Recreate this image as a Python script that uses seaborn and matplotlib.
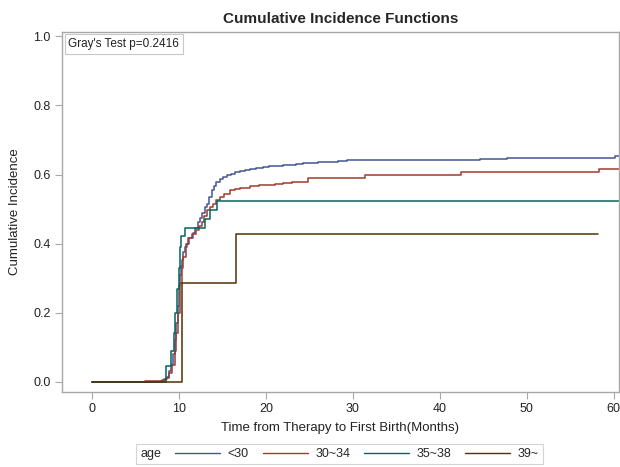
import pandas as pd
import seaborn as sns
import matplotlib.pyplot as plt
from matplotlib.lines import Line2D

# step points (time, cumulative incidence)
t_lt30 = [0, 7.9, 8.3, 8.6, 8.9, 9.1, 9.3, 9.5, 9.7, 9.85, 10.0, 10.1, 10.2, 10.3, 10.5, 10.7, 10.9,
          11.2, 11.6, 11.9, 12.2, 12.4, 12.7, 13.0, 13.2, 13.5, 13.8, 14.0, 14.3, 14.7, 15.1, 15.5,
          16.0, 16.5, 17.0, 17.6, 18.2, 18.9, 19.7, 20.4, 21.2, 22.0, 22.8, 23.5, 24.3, 25.1, 26.0,
          27.4, 28.3, 29.3, 44.6, 47.7, 60.2, 60.6]
y_lt30 = [0, 0.003, 0.008, 0.015, 0.03, 0.05, 0.08, 0.12, 0.17, 0.22, 0.28, 0.31, 0.335, 0.353, 0.375, 0.39, 0.40,
          0.415, 0.43, 0.445, 0.462, 0.473, 0.49, 0.505, 0.516, 0.535, 0.555, 0.567, 0.579, 0.588, 0.594, 0.598,
          0.603, 0.607, 0.61, 0.613, 0.615, 0.618, 0.621, 0.624, 0.626, 0.627, 0.629, 0.630, 0.632, 0.633, 0.635,
          0.637, 0.639, 0.642, 0.646, 0.649, 0.655, 0.655]

t_30_34 = [0, 6.1, 8.0, 8.5, 8.9, 9.2, 9.5, 9.7, 9.9, 10.1, 10.3, 10.5, 10.8, 11.1, 11.5, 12.0, 12.3,
           12.6, 12.9, 13.2, 13.6, 13.9, 14.3, 14.7, 15.2, 15.9, 16.5, 17.0, 18.2, 19.2, 20.1, 21.0,
           22.0, 23.0, 24.0, 24.9, 31.4, 42.5, 58.3, 60.6]
y_30_34 = [0, 0.003, 0.006, 0.012, 0.025, 0.05, 0.09, 0.14, 0.2, 0.286, 0.33, 0.36, 0.40, 0.415, 0.428, 0.44, 0.452,
           0.463, 0.48, 0.497, 0.506, 0.516, 0.526, 0.535, 0.545, 0.555, 0.559, 0.562, 0.566, 0.569, 0.571, 0.573,
           0.575, 0.577, 0.579, 0.59, 0.598, 0.606, 0.617, 0.617]

t_35_38 = [0, 8.5, 9.1, 9.4, 9.6, 9.8, 10.0, 10.1, 10.2, 10.7, 13.0, 13.6, 14.4, 60.6]
y_35_38 = [0, 0.045, 0.09, 0.14, 0.2, 0.27, 0.33, 0.39, 0.422, 0.446, 0.471, 0.497, 0.522, 0.522]

t_39 = [0, 10.3, 16.55, 58.2]
y_39 = [0, 0.2857, 0.4286, 0.4286]

groups = ["<30", "30~34", "35~38", "39~"]
colors = ["#445694", "#A23A2E", "#01665E", "#543005"]

frames = []
for g, t, y in zip(groups, [t_lt30, t_30_34, t_35_38, t_39], [y_lt30, y_30_34, y_35_38, y_39]):
    frames.append(pd.DataFrame({"time": t, "cif": y, "age": g}))
df = pd.concat(frames, ignore_index=True)

sns.set_style("white")
plt.rcParams["font.family"] = ["Liberation Sans", "DejaVu Sans"]

fig = plt.figure(figsize=(6.2, 4.67), dpi=100)
ax = fig.add_axes([0.1, 0.161, 0.898, 0.77])

sns.lineplot(data=df, x="time", y="cif", hue="age", hue_order=groups,
             palette=dict(zip(groups, colors)), estimator=None, sort=False,
             drawstyle="steps-post", linewidth=1.1, legend=False, ax=ax)

ax.set_xlim(-3.45, 60.6)
ax.set_ylim(-0.029, 1.012)
ax.set_xticks([0, 10, 20, 30, 40, 50, 60])
ax.set_yticks([0.0, 0.2, 0.4, 0.6, 0.8, 1.0])
ax.set_yticklabels(["0.0", "0.2", "0.4", "0.6", "0.8", "1.0"])
for s in ax.spines.values():
    s.set_color("#a8a8a8")
    s.set_linewidth(1.0)
ax.tick_params(axis="both", direction="out", length=5, width=0.8, color="#a8a8a8",
               labelsize=9, labelcolor="#222222", pad=3, bottom=True, left=True)

ax.set_xlabel("Time from Therapy to First Birth(Months)", fontsize=9.5, color="#222222", labelpad=5)
ax.set_ylabel("Cumulative Incidence", fontsize=9.5, color="#222222", labelpad=9)
ax.set_title("Cumulative Incidence Functions", fontsize=11, fontweight="bold", pad=7)

ax.text(0.011, 0.984, "Gray's Test p=0.2416", transform=ax.transAxes, fontsize=8.5,
        va="top", ha="left", color="#222222",
        bbox=dict(boxstyle="square,pad=0.3", facecolor="white", edgecolor="#c8c8c8", linewidth=0.8))

# legend at the bottom with the title inline
handles = [Line2D([], [], color=c, lw=1.0) for c in colors]
leg = fig.legend(handles, groups, title="age", loc="center", bbox_to_anchor=(0.548, 0.028),
                 ncol=4, fontsize=9, title_fontsize=9, frameon=True, fancybox=False,
                 edgecolor="#c8c8c8", handlelength=3.6, handletextpad=0.6, columnspacing=0.65,
                 borderpad=0.35)
leg.get_frame().set_linewidth(0.8)
c = leg.get_children()[0]
title = c.get_children()[0]
hpack = c.get_children()[1]
c._children = [hpack]
hpack._children = [title] + hpack.get_children()
hpack.sep = 10

fig.savefig("out.png", dpi=100)
